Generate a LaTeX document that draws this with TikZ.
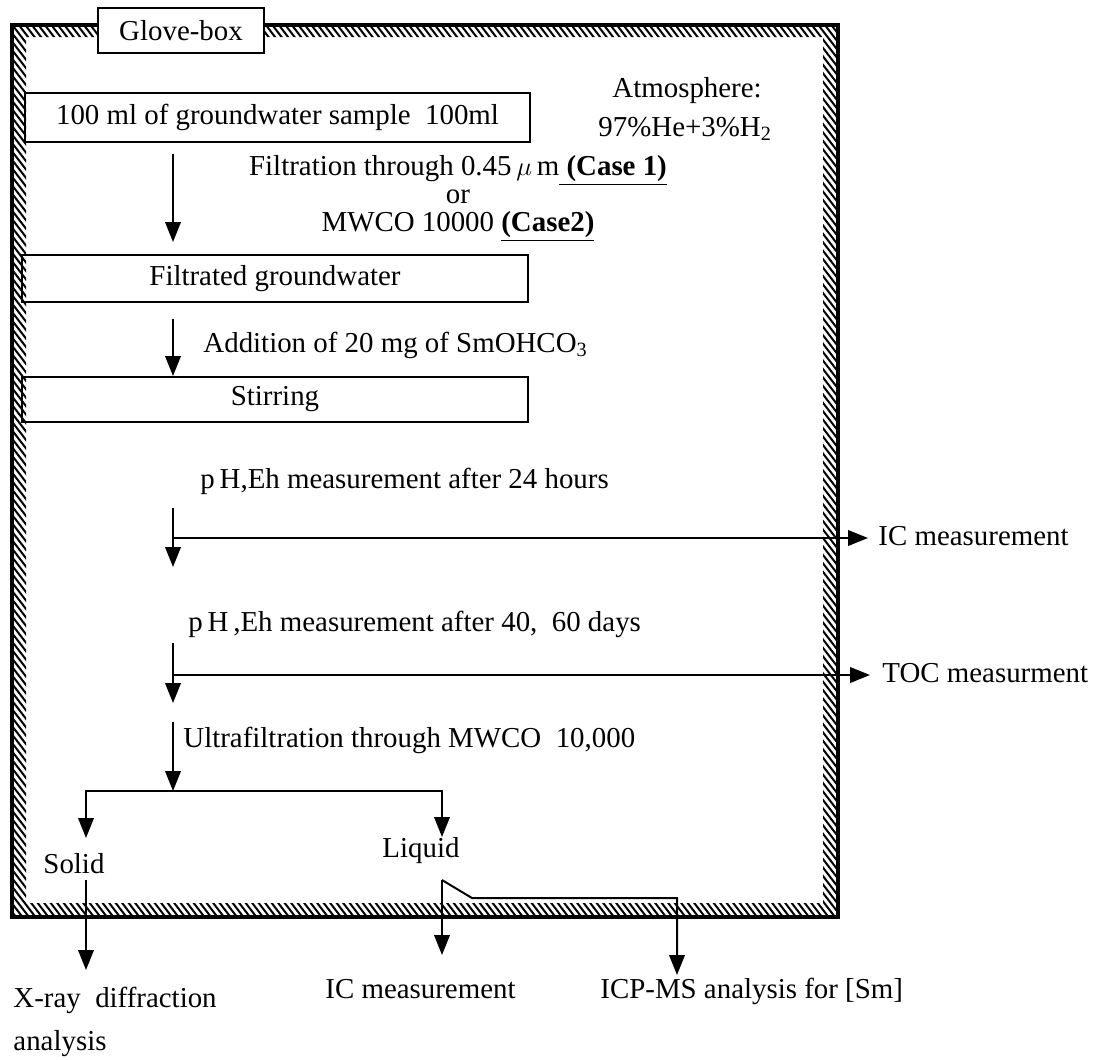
\documentclass[tikz,border=0pt]{standalone}
\usepackage{fontspec}
\setmainfont{Liberation Serif}
\usetikzlibrary{arrows.meta}
\def\pxu{0.45pt}
\tikzset{
  stepbox/.style={draw, line width=0.9pt, inner sep=0pt},
  lbl/.style={inner sep=0pt, anchor=base west},
  flow/.style={line width=0.9pt, -{Triangle[length=9pt,width=7pt]}},
  hatchline/.style={line width=0.9pt},
}
\begin{document}
\begin{tikzpicture}[x=\pxu, y=-\pxu, font=\fontsize{13}{15}\selectfont]
		\useasboundingbox (0,0) rectangle (1098,1059);
		
		%%%%% glove-box wall %%%%%
		\begin{scope}
			\clip (12,25) rectangle (838,37) (12,25) rectangle (26,917)
				(823,25) rectangle (838,917) (12,903) rectangle (838,917);
			\foreach \i in {-700,-693.5,...,845}
				\draw[hatchline] (\i,20) -- ++(720,936);
		\end{scope}
		\draw[line width=1.4pt] (12,25) rectangle (838,917);
		\node[stepbox, fill=white, minimum width=166*\pxu, minimum height=45*\pxu] (glovebox) at (181,30.5) {Glove-box};
		
		\node[lbl] (atmo) at (612,97) {Atmosphere:};
		\node[lbl] (gas) at (598,136) {97\%He+3\%H\textsubscript{2}};
		
		%%%%% boxes %%%%%
		\node[stepbox, minimum width=505*\pxu, minimum height=49*\pxu] (sample) at (277.5,117.5) {100 ml of groundwater sample\ \ 100ml};
		\node[stepbox, minimum width=506*\pxu, minimum height=47*\pxu] (filtrated) at (275,278.5) {Filtrated groundwater};
		\node[stepbox, minimum width=506*\pxu, minimum height=45*\pxu] (stirring) at (275,399.5) {Stirring};
		
		\coordinate (col) at (173,0);
		
		\node[anchor=base, inner sep=0pt] (filt1) at (458,175) {Filtration through 0.45\,$\mu$\,m\underline{\textbf{~(Case 1)}}};
		\node[anchor=base, inner sep=0pt] (filtor) at (458,203) {or};
		\node[anchor=base, inner sep=0pt] (filt2) at (458,231) {MWCO 10000 \underline{\textbf{(Case2)}}};
		\draw[flow, shorten <=11*\pxu, shorten >=12*\pxu] (sample.south -| col) -- (filtrated.north -| col);
		
		\node[lbl] (addsm) at (203,352) {Addition of 20 mg of SmOHCO\textsubscript{3}};
		\draw[flow, shorten <=16*\pxu] (filtrated.south -| col) -- (stirring.north -| col);
		
		%%%%% measurements %%%%%
		\node[lbl] (ph24) at (200,488) {p\,H,Eh measurement after 24 hours};
		\node[lbl] (icm) at (878,545) {IC measurement};
		\coordinate (s3) at (173,508);
		\coordinate (b3) at (173,538);
		\coordinate (e3) at (173,567);
		\draw[flow] (s3) -- (e3);
		\draw[flow, shorten >=10*\pxu] (b3) -- (b3 -| icm.west);
		
		\node[lbl] (ph60) at (188,631) {p\,H\,,Eh measurement after 40,\ \ 60 days};
		\node[lbl] (toc) at (882,682) {TOC measurment};
		\coordinate (s4) at (173,643);
		\coordinate (b4) at (173,675);
		\coordinate (e4) at (173,703);
		\draw[flow] (s4) -- (e4);
		\draw[flow, shorten >=12*\pxu] (b4) -- (b4 -| toc.west);
		
		\node[lbl] (ultra) at (183,747) {Ultrafiltration through MWCO\ \ 10,000};
		\coordinate (s5) at (173,722);
		\coordinate (split) at (173,791);
		\draw[flow] (s5) -- (split);
		
		%%%%% solid / liquid %%%%%
		\node[lbl] (solid) at (43,873) {Solid};
		\node[lbl] (liquid) at (382,857) {Liquid};
		\coordinate (solidin) at (86,838);
		\coordinate (liquidin) at (442,837);
		\draw[flow] (split) -| (solidin);
		\draw[flow] (split) -| (liquidin);
		
		\node[lbl] (xrd) at (13,1007) {X-ray\ \ diffraction};
		\node[lbl] (xrdb) at (13,1050) {analysis};
		\node[lbl] (icb) at (325,998) {IC measurement};
		\node[lbl] (icp) at (600,998) {ICP-MS analysis for [Sm]};
		
		\coordinate (solidout) at (86,880);
		\coordinate (xrdin) at (86,970);
		\draw[flow] (solidout) -- (xrdin);
		
		\coordinate (lqout) at (442,880);
		\coordinate (icin) at (442,955);
		\coordinate (kink) at (472,898);
		\coordinate (turn) at (677,898);
		\coordinate (icpin) at (677,975);
		\draw[flow] (lqout) -- (icin);
		\draw[flow] (lqout) -- (kink) -- (turn) -- (icpin);
		
		%%%%% END %%%%%
	\end{tikzpicture}
\end{document}
